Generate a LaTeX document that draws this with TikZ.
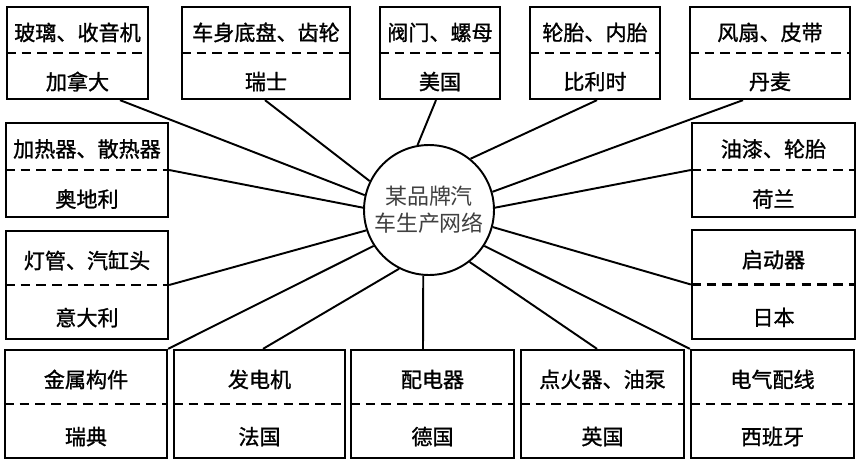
\documentclass[tikz,border=0pt]{standalone}
\usepackage{fontspec}
\newfontfamily\cjk{Noto Sans CJK SC}
\newfontfamily\cjkb[FakeBold=1.2]{Noto Sans CJK SC}
\usetikzlibrary{calc}
\begin{document}
\begin{tikzpicture}[x=0.02cm, y=-0.02cm, line width=1.1pt,
  partbox/.style={draw, rectangle, line width=1.3pt, inner sep=0pt},
  divider/.style={dashed, line width=1.3pt, dash pattern=on 5.5pt off 3.5pt},
  parttext/.style={font=\cjkb\fontsize{12}{14}\selectfont, inner sep=1pt},
  hub/.style={draw, circle, fill=white, minimum size=2.6cm, inner sep=0pt, align=center,
    font=\cjk\fontsize{12.5}{15.5}\selectfont, text=black!75}]
  \useasboundingbox (0,0) rectangle (858,464);
  % 零部件及产地
  \foreach \n/\x/\y/\w/\h/\top/\bot in {
      b1/77.5/53/141/92/玻璃、收音机/加拿大,
      b2/266/53/168/92/车身底盘、齿轮/瑞士,
      b3/440/53/120/92/阀门、螺母/美国,
      b4/595/53/130/92/轮胎、内胎/比利时,
      b5/770/53/160/92/风扇、皮带/丹麦,
      b6/87/170/162/94/加热器、散热器/奥地利,
      b7/87/285/162/108/灯管、汽缸头/意大利,
      b8/773.5/170/163/94/油漆、轮胎/荷兰,
      b9/773.5/284.5/163/109/启动器/日本,
      b10/86/404/162/108/金属构件/瑞典,
      b11/259.5/404/171/108/发电机/法国,
      b12/432.5/404/163/108/配电器/德国,
      b13/602.5/404/163/108/点火器、油泵/英国,
      b14/772.5/404/163/108/电气配线/西班牙}{
    \node[partbox, minimum width=\w*0.02cm, minimum height=\h*0.02cm] (\n) at (\x,\y) {};
    \draw[divider] (\n.west) -- (\n.east);
    \node[parttext] (\n-top) at ($(\n.north)!0.5!(\n.center)+(0,3)$) {\top};
    \node[parttext] (\n-bot) at ($(\n.center)!0.5!(\n.south)+(0,5)$) {\bot};
  }
  % 中心
  \node[hub] (c) at (429,210) {某品牌汽\\车生产网络};
  % 连线
  \draw (b1.south -| 120,0) -- (c.167);
  \draw (b2.south -| 265,0) -- (c.154);
  \draw (b3.south -| 436,0) -- (c.100);
  \draw (b4.south -| 597,0) -- (c.51);
  \draw (b5.south -| 743,0) -- (c.16);
  \draw (b6.east) -- (c.178);
  \draw (b7.east) -- (c.-162);
  \draw (b8.west) -- (c.2);
  \draw (b9.west) -- (c.-15);
  \draw (b10.north east) -- (c.-147);
  \draw (b11.north -| 263,0) -- (c.-117);
  \draw (b12.north -| 423,0) -- (c.-95);
  \draw (b13.north -| 597,0) -- (c.-52);
  \draw (b14.north west) -- (c.-33);
\end{tikzpicture}
\end{document}
